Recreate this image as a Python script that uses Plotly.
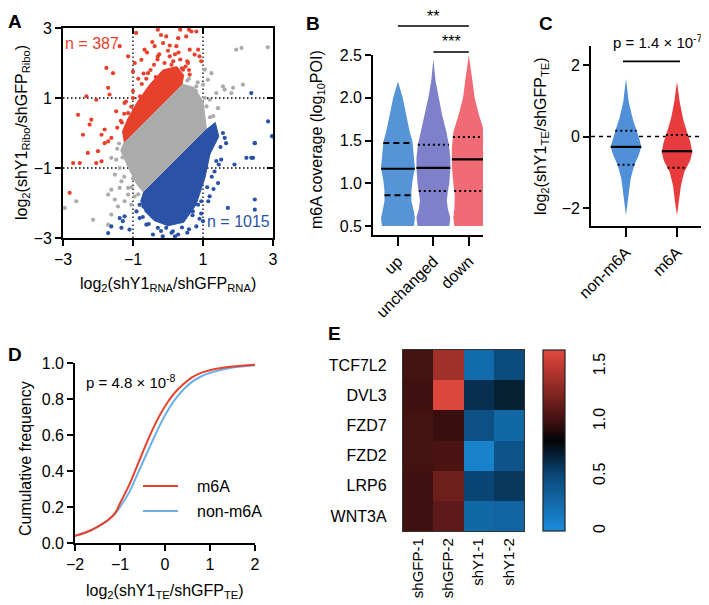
import numpy as np
import plotly.graph_objects as go

W, H = 709, 605
FONT = "Liberation Sans, Arial, sans-serif"

# ---------------- Panel A data ----------------
gray_core_x = [-1.25, 0.40, 0.75, 1.00, 1.10, -0.70, -0.90, -1.15, -1.35]
gray_core_y = [-0.25, 1.40, 1.30, 0.90, 0.10, -1.70, -1.45, -0.95, -0.50]
red_core_x = [-1.25, 0.40, 0.45, 0.25, -0.15, -0.55, -0.90, -1.15, -1.30]
red_core_y = [-0.25, 1.40, 1.65, 1.90, 1.80, 1.35, 0.85, 0.40, 0.05]
blue_core_x = [-0.70, 1.10, 1.35, 1.45, 1.20, 1.05, 0.80, 0.45, 0.00, -0.40, -0.65, -0.78]
blue_core_y = [-1.70, 0.10, 0.30, -0.10, -0.60, -1.30, -2.05, -2.55, -2.65, -2.50, -2.25, -1.95]

red_x = [-1.38, -0.91, -1.14, -1.76, -1.57, -1.71, -1.67, -2.33, -2.05, -2.57, -2.19, -2.24,
         -1.81, -1.48, -1.24, -1.14, -0.76, -0.67, -0.38, -0.29, -0.14, -0.57, -0.29,
         -2.43, -1.90, -2.29, -2.00, -2.71, -2.52, -2.05, -1.90, -2.81, -1.81, -1.71, -1.62,
         -0.05, 0.29, 0.52, 0.81, 0.67, 0.24, 0.62, 0.86, 0.76, 0.90, 0.57, 0.43, 0.05, 0.95, 0.62,
         -0.45, -0.20, 0.05, 0.35, 0.60, -1.00, -0.85, -1.35, -1.45, -0.60, -0.95,
         -1.20, -1.00, -0.70, -0.30, 0.20, 0.55, 0.60,
         -1.32, -1.05, -0.80, -0.62, -0.40, -0.10, 0.15, 0.35, 0.50, 0.30, 0.00, -0.25,
         -0.50, -0.75, -1.00, -1.25, 0.10, 0.40, -0.35, -0.85]
red_y = [2.48, 2.86, 2.19, 1.86, 1.71, 1.29, 1.10, 1.05, 0.95, 0.52, 0.38, 0.24,
         0.10, 0.62, 0.86, 0.57, 2.09, 2.38, 2.48, 2.19, 2.57, 1.71, 2.95,
         -0.05, -0.05, -0.57, -0.52, -0.86, -0.86, -0.86, -0.81, -1.71, -0.29, -0.24, -0.14,
         2.76, 2.71, 2.76, 2.90, 2.90, 2.48, 2.38, 2.38, 2.24, 2.19, 2.00, 1.81, 2.19, 2.05, 1.67,
         2.60, 2.80, 2.50, 2.95, 2.95, 1.75, 1.55, 0.35, 0.15, 2.30, 2.00,
         0.90, 1.20, 1.70, 2.10, 2.25, 2.05, 1.80,
         0.30, 0.75, 1.05, 1.55, 1.95, 2.00, 2.05, 2.10, 1.90, 2.30, 2.35, 2.25,
         1.80, 1.40, 1.00, 0.55, 1.95, 1.85, 1.60, 0.80]

blue_x = [2.48, 2.43, 2.24, 1.90, 1.52, 1.43, 1.19, 1.71, 2.48, 3.00, 1.33, 1.66, 1.62, 1.57,
          0.81, 1.00, 0.29, -0.05, 0.14, 0.71, 0.86,
          2.38, 2.86, 2.97, 2.48, 2.38, 2.48,
          -1.71, -1.62, -1.38, -1.29, -1.24, -1.33, -1.10, -0.90, -0.81, -0.81, -0.43, -0.29, -0.62,
          1.45, 1.30, 1.15, 0.95, 0.60,
          1.50, 1.38, 1.25, 1.12, 0.95, 0.70, 0.40, 0.10, -0.20, -0.55, -0.72, -0.70,
          0.55, 0.20, -0.15, 0.90]
blue_y = [-0.29, -0.71, -0.71, -0.90, -0.76, -1.43, -1.81, -2.14, -2.19, -0.10, -1.10, -0.29, -0.14, 0.00,
          -2.67, -2.52, -2.90, -2.71, -2.81, -2.24, -2.05,
          1.14, 0.33, -0.09, -0.29, -0.71, -1.90,
          -2.86, -2.67, -2.43, -2.52, -2.38, -2.71, -2.76, -2.24, -2.43, -2.05, -2.90, -2.71, -2.62,
          -0.90, -1.60, -1.95, -2.30, -2.75,
          -0.40, -0.80, -1.25, -1.55, -1.95, -2.35, -2.70, -2.85, -2.80, -2.60, -2.40, -2.10,
          -2.85, -2.95, -2.95, -2.45]

gray_x = [1.95, 2.10, 1.24, 1.05, 1.14, 1.57, 1.62, 1.86, 2.14, 1.81, 1.38, 1.00, 0.81, 1.19,
          1.10, 1.43, 0.95, 1.29, 1.00, 2.85,
          -1.48, -1.62, -1.71, -1.52, -1.43, -1.24, -1.14, -2.62, -2.14, -2.95, -1.71, -1.38,
          -1.33, -1.52, -1.62, -1.14, -1.05, -0.95, -1.62, -0.81,
          -1.40, -1.30, -1.00, 0.60, 0.85,
          -1.45, -1.38, -1.25, -1.05, -0.85, 0.55, 0.80, 1.05, 1.20]
gray_y = [2.38, 2.43, 1.71, 1.81, 1.52, 1.33, 1.24, 1.29, 1.38, 1.14, 1.14, 1.38, 1.33, 0.95,
          0.76, 0.71, 0.57, 0.48, 0.29, 2.45,
          -0.76, -1.62, -1.76, -1.90, -2.10, -1.95, -1.57, -1.95, -2.48, -2.14, -2.62, -1.57,
          -1.38, -1.19, -0.71, -1.76, -2.05, -1.81, -2.33, -2.05,
          -0.30, -0.70, -1.30, 1.55, 1.45,
          -0.45, -1.00, -1.25, -1.55, -1.75, 1.50, 1.20, 1.00, 0.45]

ticks_A = [-3, -1, 1, 3]

# ---------------- Panel B data ----------------
b_categories = ["up", "unchanged", "down"]
up_levels = [0.50, 0.59, 0.67, 0.79, 0.91, 1.02, 1.18, 1.33, 1.49, 1.61, 1.80, 2.00, 2.19]
up_halfw = [11.0, 11.7, 11.0, 9.3, 9.3, 10.0, 11.7, 11.0, 10.0, 8.0, 5.7, 3.3, 0.0]
unch_levels = [0.50, 0.60, 0.70, 0.80, 0.90, 1.00, 1.18, 1.30, 1.45, 1.60, 1.80, 2.00, 2.20, 2.45]
unch_halfw = [11.0, 11.7, 10.0, 9.3, 10.0, 11.0, 11.7, 11.7, 10.7, 9.0, 6.0, 3.5, 1.5, 0.0]
down_levels = [0.50, 0.60, 0.70, 0.85, 1.00, 1.20, 1.40, 1.60, 1.80, 2.00, 2.20, 2.50]
down_halfw = [10.0, 10.7, 10.0, 9.7, 10.7, 11.7, 11.7, 10.7, 7.0, 4.0, 2.5, 0.0]
b_medians = [1.17, 1.18, 1.28]
b_q1 = [0.86, 0.91, 0.91]
b_q3 = [1.47, 1.45, 1.54]
b_colors = ["#5594d6", "#7e80c9", "#f06b75"]
b_yticks = [0.5, 1.0, 1.5, 2.0, 2.5]

# ---------------- Panel C data ----------------
c_categories = ["non-m6A", "m6A"]
non_levels = [-2.20, -1.92, -1.64, -1.17, -0.80, -0.52, -0.29, -0.06, 0.22, 0.50, 0.97, 1.62]
non_halfw = [0.0, 1.3, 2.7, 4.7, 8.3, 12.7, 15.3, 13.3, 10.0, 6.7, 2.7, 0.0]
m6a_levels = [-2.20, -1.83, -1.36, -0.99, -0.66, -0.43, -0.15, 0.13, 0.50, 0.97, 1.53]
m6a_halfw = [0.0, 2.0, 4.0, 7.3, 13.3, 15.3, 13.3, 10.0, 6.0, 2.7, 0.0]
c_medians = [-0.29, -0.41]
c_q1 = [-0.79, -0.87]
c_q3 = [0.16, 0.04]
c_colors = ["#4f90d8", "#e83b3d"]
c_yticks = [-2, 0, 2]

# ---------------- Panel D data ----------------
d_x = [-2.0, -1.75, -1.5, -1.25, -1.1, -1.0, -0.8, -0.6, -0.4, -0.2, 0.0, 0.2, 0.4, 0.6, 0.8, 1.0, 1.25, 1.5, 2.0]
m6a_cdf = [0.04, 0.06, 0.09, 0.13, 0.17, 0.22, 0.32, 0.44, 0.56, 0.67, 0.76, 0.83, 0.88, 0.92, 0.945, 0.96, 0.972, 0.98, 0.99]
non_cdf = [0.04, 0.06, 0.09, 0.13, 0.165, 0.20, 0.28, 0.39, 0.50, 0.61, 0.71, 0.79, 0.85, 0.895, 0.925, 0.945, 0.962, 0.975, 0.988]

# ---------------- Panel E data ----------------
e_genes = ["TCF7L2", "DVL3", "FZD7", "FZD2", "LRP6", "WNT3A"]
e_samples = ["shGFP-1", "shGFP-2", "shY1-1", "shY1-2"]
e_values = [
    [1.02, 1.38, 0.25, 0.48],
    [1.00, 1.62, 0.62, 0.70],
    [1.02, 0.98, 0.45, 0.28],
    [1.02, 1.05, 0.08, 0.42],
    [1.00, 1.18, 0.52, 0.58],
    [1.00, 1.12, 0.28, 0.30],
]
e_cb_ticks = [0, 0.5, 1.0, 1.5]
e_cb_labels = ["0", "0.5", "1.0", "1.5"]
E_ZMAX = 1.65


def px(x):
    return x / W


def py(y):
    return 1 - y / H


fig = go.Figure()

# ---- Panel A ----
RED, BLUE, GRAY = "#e8412b", "#2a52a6", "#ababab"
for cx, cy, sx, sy, col in [(gray_core_x, gray_core_y, gray_x, gray_y, GRAY),
                             (red_core_x, red_core_y, red_x, red_y, RED),
                             (blue_core_x, blue_core_y, blue_x, blue_y, BLUE)]:
    fig.add_trace(go.Scatter(x=cx + [cx[0]], y=cy + [cy[0]], mode="lines", fill="toself",
                             fillcolor=col, line=dict(color=col, width=1),
                             xaxis="x", yaxis="y", hoverinfo="skip", showlegend=False))
    fig.add_trace(go.Scatter(x=sx, y=sy, mode="markers", marker=dict(color=col, size=4.2),
                             xaxis="x", yaxis="y", showlegend=False))
fig.add_trace(go.Scatter(x=[], y=[], xaxis="x6", yaxis="y6", showlegend=False))

# ---- Panel B ----
B_UNIT = 35.5
B_SCALE = 1.45
b_profiles = [(up_levels, up_halfw), (unch_levels, unch_halfw), (down_levels, down_halfw)]
for i, (lv, hw) in enumerate(b_profiles):
    hw_u = [h * B_SCALE / B_UNIT for h in hw]
    xs = [i + h for h in hw_u] + [i - h for h in hw_u[::-1]]
    ys = list(lv) + list(lv[::-1])
    fig.add_trace(go.Scatter(x=xs, y=ys, mode="lines", fill="toself", fillcolor=b_colors[i],
                             line=dict(width=0, color=b_colors[i]), xaxis="x2", yaxis="y2",
                             showlegend=False, hoverinfo="skip"))
    qdash = "6px,4px" if i == 0 else "2px,3px"
    for val, dash, wdt in [(b_medians[i], "solid", 2.2), (b_q1[i], qdash, 2), (b_q3[i], qdash, 2)]:
        h = np.interp(val, lv, hw_u)
        fig.add_trace(go.Scatter(x=[i - h, i + h], y=[val, val], mode="lines",
                                 line=dict(color="black", width=wdt, dash=dash),
                                 xaxis="x2", yaxis="y2", showlegend=False, hoverinfo="skip"))

# ---- Panel C ----
C_UNIT = 51.0
c_profiles = [(non_levels, non_halfw), (m6a_levels, m6a_halfw)]
for i, (lv, hw) in enumerate(c_profiles):
    hw_u = [h / C_UNIT for h in hw]
    xs = [i + h for h in hw_u] + [i - h for h in hw_u[::-1]]
    ys = list(lv) + list(lv[::-1])
    fig.add_trace(go.Scatter(x=xs, y=ys, mode="lines", fill="toself", fillcolor=c_colors[i],
                             line=dict(width=0, color=c_colors[i]), xaxis="x3", yaxis="y3",
                             showlegend=False, hoverinfo="skip"))
    for val, dash, wdt in [(c_medians[i], "solid", 2.2), (c_q1[i], "2px,3px", 2), (c_q3[i], "2px,3px", 2)]:
        h = np.interp(val, lv, hw_u)
        fig.add_trace(go.Scatter(x=[i - h, i + h], y=[val, val], mode="lines",
                                 line=dict(color="black", width=wdt, dash=dash),
                                 xaxis="x3", yaxis="y3", showlegend=False, hoverinfo="skip"))

# ---- Panel D ----
D_RED, D_BLUE = "#e8412b", "#6cb0e8"
fig.add_trace(go.Scatter(x=d_x, y=non_cdf, mode="lines", line=dict(color=D_BLUE, width=2, shape="spline"),
                         xaxis="x4", yaxis="y4", name="non-m6A", showlegend=False))
fig.add_trace(go.Scatter(x=d_x, y=m6a_cdf, mode="lines", line=dict(color=D_RED, width=2, shape="spline"),
                         xaxis="x4", yaxis="y4", name="m6A", showlegend=False))

# ---- Panel E ----
CB_BOTTOM, CB_LEN, CB_LEFT, CB_THICK = 523, 181, 535, 22
fig.add_trace(go.Heatmap(
    z=e_values, x=e_samples, y=e_genes, xaxis="x5", yaxis="y5", zmin=0, zmax=E_ZMAX,
    colorscale=[[0.0, "#1a8ddb"], [0.30, "#0b4a7c"], [0.50, "#020406"], [0.60, "#3c0f0f"],
                [0.91, "#c03a33"], [1.0, "#e2493f"]],
    colorbar=dict(x=px(CB_LEFT), xanchor="left", y=py(CB_BOTTOM), yanchor="bottom",
                  len=CB_LEN, lenmode="pixels", thickness=CB_THICK, thicknessmode="pixels",
                  xpad=0, ypad=0, outlinewidth=1.2, outlinecolor="#222",
                  tickvals=e_cb_ticks, ticktext=e_cb_labels, tickangle=-90,
                  ticks="outside", ticklen=21, tickcolor="rgba(0,0,0,0)",
                  tickfont=dict(size=16, family=FONT, color="black")),
))

axis_common = dict(showgrid=False, zeroline=False, showline=True, linecolor="black", linewidth=1.6,
                   ticks="outside", tickcolor="black", tickwidth=1.6, ticklen=6, automargin=False,
                   tickfont=dict(size=16, family=FONT, color="black"))
plain_axis = dict(showgrid=False, zeroline=False, automargin=False)

layout = dict(
    template="none",
    width=W, height=H, margin=dict(l=0, r=0, t=0, b=0, pad=0, autoexpand=False),
    paper_bgcolor="white", plot_bgcolor="white",
    font=dict(family=FONT, size=16, color="black"),
    xaxis=dict(axis_common, domain=[px(55), px(265)], range=[-3, 3], tickvals=ticks_A,
               mirror=True, anchor="y"),
    yaxis=dict(axis_common, domain=[py(230), py(20)], range=[-3, 3], tickvals=ticks_A,
               mirror=True, anchor="x"),
    xaxis6=dict(plain_axis, overlaying="x", side="top", range=[-3, 3], tickvals=ticks_A, ticks="inside",
                ticklen=6, tickwidth=1.6, tickcolor="black", showticklabels=False,
                showline=False, anchor="y6"),
    yaxis6=dict(plain_axis, overlaying="y", side="right", range=[-3, 3], tickvals=ticks_A, ticks="inside",
                ticklen=6, tickwidth=1.6, tickcolor="black", showticklabels=False,
                showline=False, anchor="x6"),
    xaxis2=dict(axis_common, domain=[px(365), px(475)], range=[-0.704, 2.4], tickvals=[0, 1, 2],
                ticktext=b_categories, tickangle=-45, ticklen=9, anchor="y2"),
    yaxis2=dict(axis_common, domain=[py(227), py(47)], range=[0.395, 2.5], tickvals=b_yticks,
                tickformat=".1f", anchor="x2"),
    xaxis3=dict(axis_common, domain=[px(583), px(705)], range=[-0.686, 1.706], tickvals=[0, 1],
                ticktext=c_categories, tickangle=-45, ticklen=9, anchor="y3"),
    yaxis3=dict(axis_common, domain=[py(218), py(38)], range=[-2.5, 2.53], tickvals=c_yticks,
                anchor="x3"),
    xaxis4=dict(axis_common, domain=[px(67), px(247)], range=[-2, 2], tickvals=[-2, -1, 0, 1, 2],
                anchor="y4"),
    yaxis4=dict(axis_common, domain=[py(535), py(355)], range=[0, 1],
                tickvals=[0, 0.2, 0.4, 0.6, 0.8, 1.0], tickformat=".1f", anchor="x4"),
    xaxis5=dict(plain_axis, domain=[px(395), px(516)], showline=True, mirror=True,
                linecolor="#333", linewidth=1.4, ticks="", tickangle=-90,
                tickfont=dict(size=15, family=FONT, color="black"), anchor="y5"),
    yaxis5=dict(plain_axis, domain=[py(523), py(342)], showline=True, mirror=True,
                linecolor="#333", linewidth=1.4, ticks="outside", ticklen=12, tickcolor="rgba(0,0,0,0)",
                autorange="reversed", tickfont=dict(size=16, family=FONT, color="black"), anchor="x5"),
)
fig.update_layout(**layout)

shapes = []
# Panel A dotted guide lines
for v in [-1, 1]:
    shapes.append(dict(type="line", xref="x", yref="y domain", x0=v, x1=v, y0=0, y1=1,
                       line=dict(color="black", width=1.3, dash="1.5px,2.5px"), layer="below"))
    shapes.append(dict(type="line", xref="x domain", yref="y", x0=0, x1=1, y0=v, y1=v,
                       line=dict(color="black", width=1.3, dash="1.5px,2.5px"), layer="below"))
# Panel B significance brackets
shapes.append(dict(type="line", xref="x2", yref="paper", x0=0, x1=2, y0=py(18), y1=py(18),
                   line=dict(color="black", width=1.6)))
shapes.append(dict(type="line", xref="x2", yref="paper", x0=1, x1=2, y0=py(44), y1=py(44),
                   line=dict(color="black", width=1.6)))
# Panel C zero line and bracket
shapes.append(dict(type="line", xref="x3 domain", yref="y3", x0=0, x1=1, y0=0, y1=0,
                   line=dict(color="black", width=1.5, dash="4px,4px"), layer="below"))
shapes.append(dict(type="line", xref="x3", yref="y3", x0=-0.06, x1=1.06, y0=2.1, y1=2.1,
                   line=dict(color="black", width=1.6)))
# Panel D legend lines
shapes.append(dict(type="line", xref="paper", yref="paper", x0=px(135), x1=px(170), y0=py(478), y1=py(478),
                   line=dict(color=D_RED, width=2)))
shapes.append(dict(type="line", xref="paper", yref="paper", x0=px(135), x1=px(170), y0=py(503), y1=py(503),
                   line=dict(color=D_BLUE, width=2)))
# Panel E colorbar dashed tick marks (computed from tick values)
for v in e_cb_ticks[1:]:
    yy = py(CB_BOTTOM - v / E_ZMAX * CB_LEN)
    shapes.append(dict(type="line", xref="paper", yref="paper", x0=px(CB_LEFT + 1), x1=px(CB_LEFT + CB_THICK - 1),
                       y0=yy, y1=yy, line=dict(color="black", width=1.5, dash="5px,4px")))
fig.update_layout(shapes=shapes)


def ann(text, x, y, size=16, color="black", angle=0, bold=False, xanchor="center", xref="paper"):
    t = f"<b>{text}</b>" if bold else text
    return dict(text=t, x=x if xref != "paper" else px(x), y=py(y), xref=xref, yref="paper",
                showarrow=False, textangle=angle, xanchor=xanchor, yanchor="middle",
                font=dict(size=size, color=color, family=FONT))


annotations = [
    ann("A", 7, 14, size=19, bold=True),
    ann("B", 305, 15, size=19, bold=True),
    ann("C", 538, 15, size=19, bold=True),
    ann("D", 7, 346, size=19, bold=True),
    ann("E", 326, 325, size=19, bold=True),
    ann("n = 387", 84, 36, color=RED),
    ann("n = 1015", 230, 213, color=BLUE),
    ann("log<sub>2</sub>(shY1<sub>RNA</sub>/shGFP<sub>RNA</sub>)", 160, 276),
    ann("log<sub>2</sub>(shY1<sub>Ribo</sub>/shGFP<sub>Ribo</sub>)", 15, 125, angle=-90),
    ann("m6A coverage (log<sub>10</sub>POI)", 310, 132, angle=-90),
    ann("**", 1, 9, xref="x2"),
    ann("***", 1.5, 34, xref="x2"),
    ann("log<sub>2</sub>(shY1<sub>TE</sub>/shGFP<sub>TE</sub>)", 533, 128, angle=-90),
    ann("p = 1.4 × 10<sup>-7</sup>", 603, 33, size=15, xanchor="left"),
    ann("Cumulative frequency", 17, 451, angle=-90),
    ann("log<sub>2</sub>(shY1<sub>TE</sub>/shGFP<sub>TE</sub>)", 157, 583),
    ann("p = 4.8 × 10<sup>-8</sup>", 76, 373, size=15, xanchor="left"),
    ann("m6A", 187, 478, xanchor="left"),
    ann("non-m6A", 187, 503, xanchor="left"),
]
fig.update_layout(annotations=annotations)

fig.write_html("out.html")
